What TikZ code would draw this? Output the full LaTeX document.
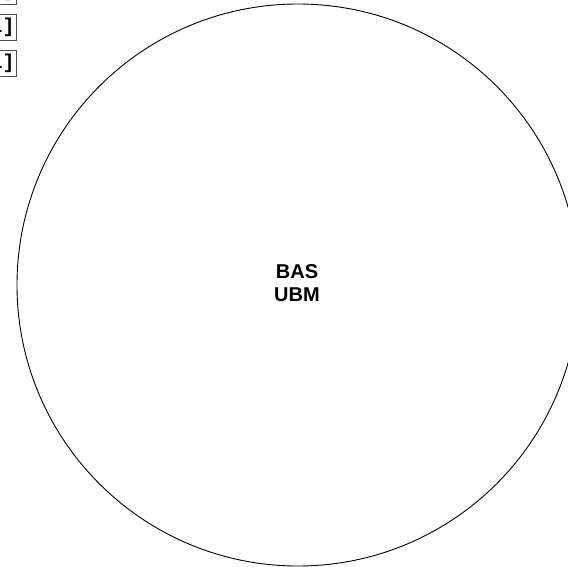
\documentclass[tikz,border=0pt]{standalone}
\usepackage{fontspec}
\setsansfont{Liberation Sans}
\setmonofont{Liberation Mono}
\begin{document}
\begin{tikzpicture}[x=1pt,y=-1pt,
  ring/.style={draw=black, line width=0.9pt, circle, minimum size=562pt, inner sep=0pt},
  label/.style={font=\sffamily\bfseries\fontsize{20}{23}\selectfont, align=center, inner sep=0pt},
  tag/.style={draw=black!70, line width=0.6pt, anchor=east, minimum height=26pt, inner sep=2pt, font=\ttfamily\bfseries\fontsize{20}{22}\selectfont}]
\useasboundingbox (0,0) rectangle (568,567);
\node[ring] (c) at (298,285) {};
\node[label] (t) at (297,283) {BAS\\UBM};
\node[tag] (b1) at (17,-9) {[1]};
\node[tag] (b2) at (17,27) {[1]};
\node[tag] (b3) at (17,63.5) {[1]};
\end{tikzpicture}
\end{document}
